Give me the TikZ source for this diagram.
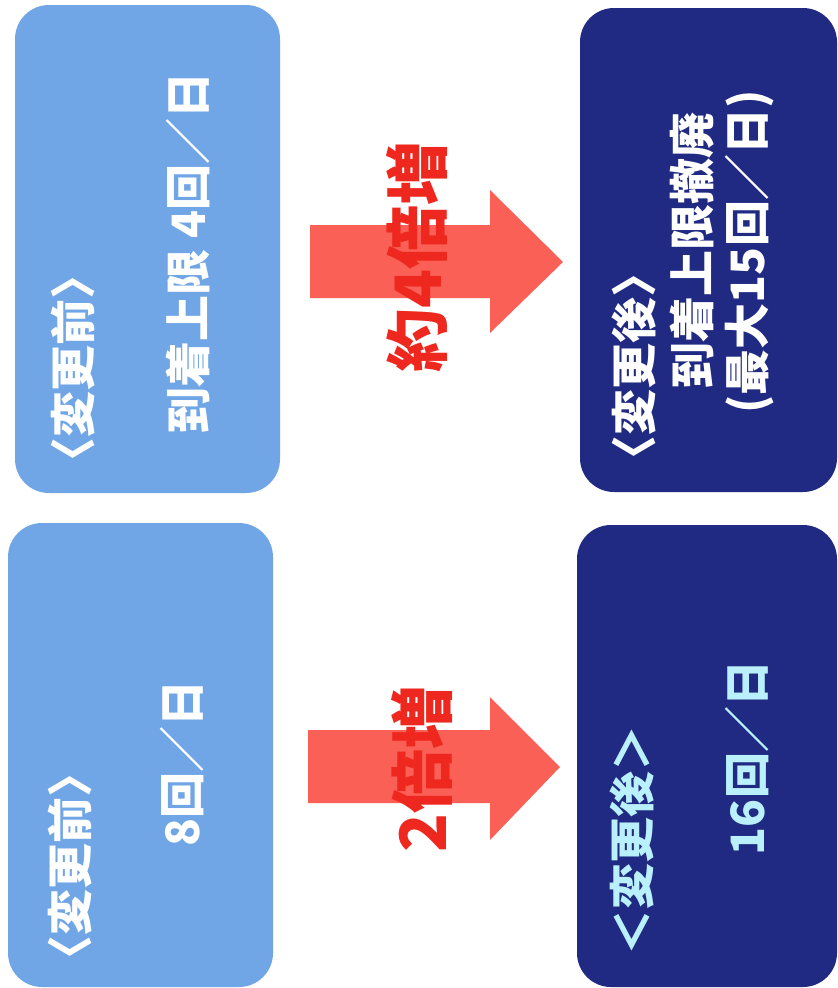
\documentclass[tikz,border=0pt]{standalone}
\usepackage{fontspec}
\newfontfamily\jp{Noto Sans CJK JP}
\definecolor{lightbox}{RGB}{112,166,230}
\definecolor{darkbox}{RGB}{32,42,130}
\definecolor{arrowred}{RGB}{250,96,86}
\definecolor{textred}{RGB}{238,40,30}
\definecolor{glowtext}{RGB}{185,240,252}
\begin{document}
\begin{tikzpicture}[x=1pt,y=-1pt,
  boxstyle/.style={rounded corners=34pt,inner sep=0pt,draw=none},
  boxtext/.style={rotate=90,inner sep=0pt,text=white,font=\jp\bfseries\fontsize{46}{50}\selectfont},
  redtext/.style={rotate=90,inner sep=0pt,text=textred,font=\jp\bfseries\fontsize{64}{70}\selectfont},
  bigarrow/.style={fill=arrowred,draw=none}]
\fill[white] (0,0) rectangle (838,988);
\useasboundingbox (0,0) rectangle (838,988);
% boxes
\node[boxstyle,fill=lightbox,minimum width=265pt,minimum height=488pt] (tl) at (147.5,249) {};
\node[boxstyle,fill=darkbox,minimum width=257pt,minimum height=484pt] (tr) at (708.5,250) {};
\node[boxstyle,fill=lightbox,minimum width=265pt,minimum height=464pt] (bl) at (140.5,755) {};
\node[boxstyle,fill=darkbox,minimum width=260pt,minimum height=462pt] (br) at (707,756) {};
% arrows
\fill[bigarrow] (310,225) -- (490,225) -- (490,190) -- (563,262) -- (490,333) -- (490,298) -- (310,298) -- cycle;
\fill[bigarrow] (308,730) -- (490,730) -- (490,697) -- (560,767) -- (490,840) -- (490,803) -- (308,803) -- cycle;
% texts
\node[boxtext] (tlh) at (73,368) {〈変更前〉};
\node[boxtext] (tlb) at (188,253) {到着上限 4回／日};
\node[boxtext] (trh) at (634,366) {〈変更後〉};
\node[boxtext] (trb1) at (692,250) {到着上限撤廃};
\node[boxtext] (trb2) at (750,252) {(最大15回／日)};
\node[boxtext] (blh) at (70,866) {〈変更前〉};
\node[boxtext] (blb) at (182,763) {8回／日};
\node[boxtext,text=glowtext] (brh) at (632,840) {＜変更後＞};
\node[boxtext,text=glowtext] (brb) at (747,758) {16回／日};
\node[redtext] (r1) at (417,257) {約4倍増};
\node[redtext] (r2) at (422,769) {2倍増};
\end{tikzpicture}
\end{document}
